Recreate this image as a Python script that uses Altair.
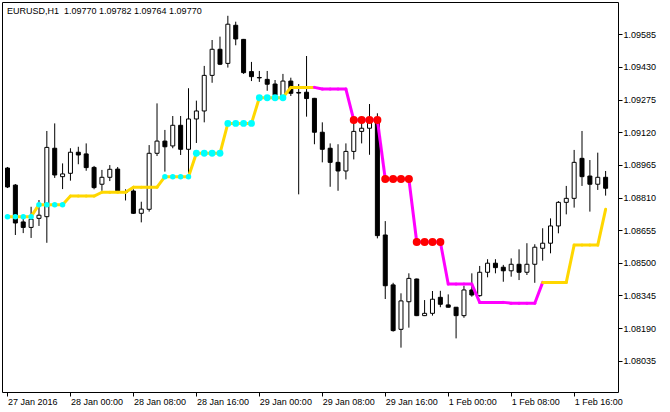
import altair as alt
import pandas as pd

# EURUSD H1 candles, 27 Jan 2016 16:00 .. 1 Feb 2016 20:00 (bar index 0..76)
OPEN = [1.08950, 1.08869, 1.08694, 1.08668, 1.08711, 1.08719, 1.09044, 1.08909, 1.08925, 1.09025,
        1.09017, 1.08953, 1.08873, 1.08906, 1.08945, 1.08836, 1.08841, 1.08735, 1.08754, 1.09020,
        1.09078, 1.09055, 1.09153, 1.09039, 1.09183, 1.09221, 1.09390, 1.09514, 1.09447, 1.09628,
        1.09561, 1.09408, 1.09380, 1.09371, 1.09349, 1.09289, 1.09363, 1.09309, 1.09310, 1.09281,
        1.09120, 1.09044, 1.08977, 1.08936, 1.09029, 1.09124, 1.09139, 1.09178, 1.08632, 1.08395,
        1.08184, 1.08315, 1.08423, 1.08249, 1.08260, 1.08336, 1.08300, 1.08289, 1.08249, 1.08371,
        1.08344, 1.08455, 1.08498, 1.08479, 1.08462, 1.08493, 1.08455, 1.08493, 1.08569, 1.08593,
        1.08675, 1.08787, 1.08806, 1.08996, 1.08912, 1.08873, 1.08906]
HIGH = [1.08955, 1.08874, 1.08722, 1.08766, 1.08798, 1.09126, 1.09162, 1.08972, 1.09044, 1.09051,
        1.09067, 1.08960, 1.08941, 1.08964, 1.08955, 1.08849, 1.08849, 1.08790, 1.09059, 1.09257,
        1.09131, 1.09197, 1.09197, 1.09329, 1.09270, 1.09435, 1.09558, 1.09574, 1.09673, 1.09645,
        1.09563, 1.09454, 1.09411, 1.09411, 1.09368, 1.09397, 1.09379, 1.09349, 1.09482, 1.09283,
        1.09167, 1.09067, 1.09063, 1.09067, 1.09178, 1.09194, 1.09254, 1.09210, 1.08698, 1.08405,
        1.08355, 1.08450, 1.08425, 1.08323, 1.08366, 1.08367, 1.08350, 1.08290, 1.08390, 1.08450,
        1.08485, 1.08517, 1.08517, 1.08490, 1.08521, 1.08564, 1.08593, 1.08588, 1.08664, 1.08711,
        1.08793, 1.08865, 1.09036, 1.09126, 1.08988, 1.09023, 1.08936]
LOW = [1.08855, 1.08632, 1.08641, 1.08618, 1.08675, 1.08595, 1.08903, 1.08850, 1.08890, 1.08968,
       1.08937, 1.08849, 1.08842, 1.08888, 1.08838, 1.08796, 1.08732, 1.08692, 1.08743, 1.09007,
       1.08933, 1.09044, 1.09012, 1.08925, 1.09069, 1.09167, 1.09355, 1.09439, 1.09427, 1.09533,
       1.09397, 1.09363, 1.09359, 1.09317, 1.09283, 1.09273, 1.09292, 1.08825, 1.09194, 1.09063,
       1.08977, 1.08861, 1.08842, 1.08896, 1.08991, 1.09067, 1.09013, 1.08616, 1.08328, 1.08173,
       1.08097, 1.08192, 1.08247, 1.08247, 1.08249, 1.08289, 1.08288, 1.08141, 1.08239, 1.08339,
       1.08339, 1.08431, 1.08450, 1.08410, 1.08434, 1.08418, 1.08442, 1.08405, 1.08510, 1.08545,
       1.08640, 1.08730, 1.08762, 1.08865, 1.08743, 1.08846, 1.08819]
CLOSE = [1.08860, 1.08689, 1.08668, 1.08707, 1.08726, 1.09048, 1.08917, 1.08922, 1.09025, 1.09012,
         1.08952, 1.08857, 1.08906, 1.08944, 1.08842, 1.08835, 1.08735, 1.08755, 1.09020, 1.09078,
         1.09051, 1.09153, 1.09039, 1.09183, 1.09221, 1.09390, 1.09514, 1.09443, 1.09633, 1.09563,
         1.09403, 1.09384, 1.09378, 1.09348, 1.09297, 1.09363, 1.09305, 1.09306, 1.09280, 1.09120,
         1.09039, 1.08977, 1.08936, 1.09029, 1.09124, 1.09139, 1.09170, 1.08629, 1.08391, 1.08178,
         1.08319, 1.08426, 1.08249, 1.08260, 1.08327, 1.08303, 1.08289, 1.08249, 1.08371, 1.08347,
         1.08455, 1.08498, 1.08477, 1.08462, 1.08493, 1.08455, 1.08493, 1.08574, 1.08593, 1.08675,
         1.08787, 1.08806, 1.08977, 1.08909, 1.08873, 1.08906, 1.08854]

# Trailing step indicator value per bar and its trend state (u = up, d = down)
STEP = [1.08719, 1.08719, 1.08719, 1.08719, 1.08776, 1.08776, 1.08776, 1.08776, 1.08817, 1.08817,
        1.08817, 1.08817, 1.08835, 1.08835, 1.08835, 1.08835, 1.08859, 1.08859, 1.08859, 1.08859,
        1.08909, 1.08909, 1.08909, 1.08909, 1.09020, 1.09020, 1.09020, 1.09020, 1.09162, 1.09162,
        1.09162, 1.09162, 1.09284, 1.09284, 1.09284, 1.09284, 1.09333, 1.09333, 1.09333, 1.09333,
        1.09325, 1.09325, 1.09325, 1.09325, 1.09178, 1.09178, 1.09178, 1.09178, 1.08898, 1.08898,
        1.08898, 1.08898, 1.08599, 1.08599, 1.08599, 1.08599, 1.08399, 1.08399, 1.08399, 1.08399,
        1.08312, 1.08312, 1.08312, 1.08312, 1.08308, 1.08308, 1.08308, 1.08308, 1.08407, 1.08407,
        1.08407, 1.08407, 1.08584, 1.08584, 1.08584, 1.08584, 1.08754]
TREND = "uuuuuuuuuuuuuuuuuuuuuuuuuuuuuuuuuuuuuuuuddddddddddddddddddddddddddddduuuuuuuuu"[:77]

# Bars where the indicator printed a signal dot
UP_DOTS_SMALL = [0, 1, 2, 3, 4, 5, 6, 7, 20, 21, 22, 23]
UP_DOTS_LARGE = [24, 25, 26, 27, 28, 29, 30, 31, 32, 33, 34, 35]
DOWN_DOTS = [44, 45, 46, 47, 48, 49, 50, 51, 52, 53, 54, 55]

TIME_TICKS = [0, 8, 16, 24, 32, 40, 48, 56, 64, 72]
TIME_LABELS = ["27 Jan 2016", "28 Jan 00:00", "28 Jan 08:00", "28 Jan 16:00", "29 Jan 00:00",
               "29 Jan 08:00", "29 Jan 16:00", "1 Feb 00:00", "1 Feb 08:00", "1 Feb 16:00"]
PRICE_TICKS = [1.08035, 1.08190, 1.08345, 1.08500, 1.08655, 1.08810,
               1.08965, 1.09120, 1.09275, 1.09430, 1.09585]

SYMBOL = "EURUSD,H1"
LAST_OHLC = ["1.09770", "1.09782", "1.09764", "1.09770"]

FONT = "Liberation Sans"
FS = 9

n = len(OPEN)
bars = pd.DataFrame({"bar": list(range(n)), "open": OPEN, "high": HIGH,
                     "low": LOW, "close": CLOSE})
bars["dir"] = ["up" if c >= o else "down" for o, c in zip(OPEN, CLOSE)]

segments = pd.DataFrame({
    "bar": list(range(n - 1)), "bar2": list(range(1, n)),
    "v": STEP[:-1], "v2": STEP[1:],
    "trend": list(TREND[1:n]),
})

dot_rows = []
for kind, idx in (("up_s", UP_DOTS_SMALL), ("up_l", UP_DOTS_LARGE), ("down", DOWN_DOTS)):
    for b in idx:
        dot_rows.append({"bar": b, "v": STEP[b], "kind": kind})
dots = pd.DataFrame(dot_rows)

labels_js = "[" + ",".join("'%s'" % s for s in TIME_LABELS) + "]"
ticks_js = "[" + ",".join(str(t) for t in TIME_TICKS) + "]"

x_scale = alt.Scale(domain=[-0.0625, 76.9375], nice=False, zero=False)
y_scale = alt.Scale(domain=[1.078864, 1.097385], nice=False, zero=False)

x_axis = alt.Axis(values=TIME_TICKS, labelExpr=f"{labels_js}[indexof({ticks_js}, datum.value)]",
                  labelAlign="left", labelBaseline="top", labelPadding=1, tickSize=4,
                  labelOverlap=False, labelBound=False, labelFlush=False, title=None)
y_axis = alt.Axis(orient="right", values=PRICE_TICKS, format=".5f", tickSize=4,
                  labelPadding=1, labelBaseline="middle", labelOverlap=False,
                  labelBound=False, labelFlush=False, title=None)


def X(field):
    return alt.X(f"{field}:Q", scale=x_scale, axis=x_axis)


def Y(field):
    return alt.Y(f"{field}:Q", scale=y_scale, axis=y_axis)


base = alt.Chart(bars)

wicks = base.mark_rule(color="black", strokeWidth=1, clip=True).encode(
    x=X("bar"), y=Y("low"), y2="high")

bodies = base.mark_bar(size=4, stroke="black", strokeWidth=1, clip=True).encode(
    x=X("bar"), y=Y("open"), y2="close",
    fill=alt.Fill("dir:N", scale=alt.Scale(domain=["up", "down"], range=["white", "black"]),
                  legend=None))

line = alt.Chart(segments).mark_rule(strokeWidth=3, strokeCap="round", clip=True).encode(
    x=X("bar"), x2="bar2", y=Y("v"), y2="v2",
    color=alt.Color("trend:N", scale=alt.Scale(domain=["u", "d"], range=["#FFD700", "#FF00FF"]),
                    legend=None))

signal = alt.Chart(dots).mark_circle(opacity=1, clip=True).encode(
    x=X("bar"), y=Y("v"),
    color=alt.Color("kind:N", scale=alt.Scale(domain=["up_s", "up_l", "down"],
                                              range=["#00FFFF", "#00FFFF", "#FF0000"]),
                    legend=None),
    size=alt.Size("kind:N", scale=alt.Scale(domain=["up_s", "up_l", "down"],
                                            range=[30, 64, 34]), legend=None))

header = alt.Chart(pd.DataFrame({"t": [SYMBOL + "\u00a0\u00a0" + " ".join(LAST_OHLC)]})).mark_text(
    align="left", baseline="alphabetic", font=FONT, fontSize=FS, color="black").encode(
    x=alt.value(5), y=alt.value(11.5), text="t:N")

chart = alt.layer(wicks, bodies, line, signal, header).resolve_scale(
    color="independent").properties(
    width=616, height=390,
    padding={"left": 2, "top": 2, "right": 52, "bottom": 20},
    autosize=alt.AutoSizeParams(type="none"),
    background="white",
).configure_view(stroke="black", strokeWidth=1).configure_axis(
    domain=False, grid=False, tickColor="black", labelColor="black",
    labelFont=FONT, labelFontSize=FS, ticks=True)

chart.save("out.html", embed_options={"renderer": "svg", "actions": False})
